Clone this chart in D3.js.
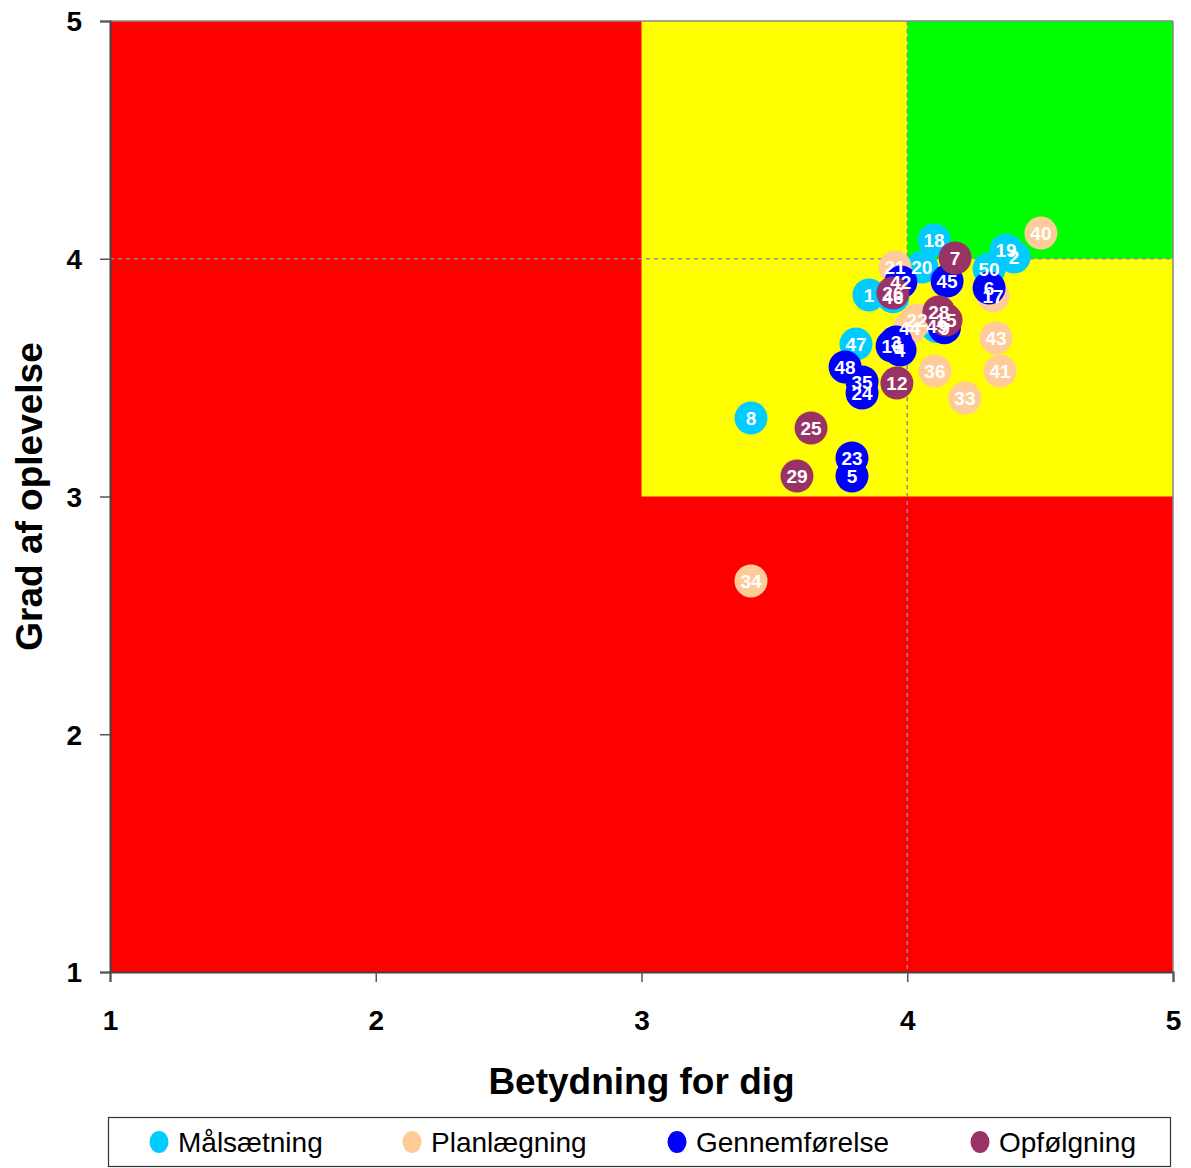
<!DOCTYPE html>
<html><head><meta charset="utf-8">
<script src="https://cdn.jsdelivr.net/npm/d3@7"></script>
<style>
html,body{margin:0;padding:0;background:#fff;}
svg{display:block;font-family:"Liberation Sans",Arial,sans-serif;}
</style></head>
<body>
<svg id="c" width="1191" height="1168"></svg>
<script>
const seriesNames = ["Målsætning","Planlægning","Gennemførelse","Opfølgning"];
const seriesColors = ["#00CCFF","#FFCC99","#0000FF","#993366"];
const xTicks = [1,2,3,4,5];
const yTicks = [1,2,3,4,5];

// [label, x, y]
const malsaetning = [
  ["8",3.412,3.330],["47",3.807,3.641],["1",3.856,3.848],["46",3.946,3.840],
  ["18",4.101,4.079],["20",4.055,3.965],["19",4.372,4.037],["2",4.402,4.007],
  ["50",4.308,3.957],["49",4.112,3.715]
];
const planlaegning = [
  ["40",4.503,4.108],["21",3.954,3.965],["17",4.323,3.843],["43",4.334,3.667],
  ["41",4.349,3.528],["36",4.104,3.528],["33",4.217,3.414],["34",3.412,2.645],
  ["22",4.037,3.742],["44",4.010,3.709]
];
const gennemfoerelse = [
  ["48",3.766,3.545],["35",3.830,3.482],["24",3.830,3.435],["23",3.792,3.162],
  ["5",3.792,3.086],["16",3.943,3.633],["4",3.973,3.616],["3",3.958,3.650],
  ["42",3.976,3.902],["45",4.150,3.906],["6",4.308,3.877],["9",4.140,3.710]
];
const opfoelgning = [
  ["25",3.638,3.288],["29",3.585,3.086],["12",3.961,3.477],["7",4.180,4.003],
  ["26",3.946,3.856],["28",4.119,3.776],["15",4.146,3.742]
];
const allSeries = [malsaetning, planlaegning, gennemfoerelse, opfoelgning];

const svg = d3.select("#c");
const L=110,R=1173,T=21,B=972;
const x = d3.scaleLinear().domain([1,5]).range([L,R]);
const y = d3.scaleLinear().domain([1,5]).range([B,T]);

// zones
svg.append("rect").attr("x",x(1)).attr("y",y(5)).attr("width",x(5)-x(1)).attr("height",y(1)-y(5)).attr("fill","#FF0000");
svg.append("rect").attr("x",x(3)).attr("y",y(5)).attr("width",x(5)-x(3)).attr("height",y(3)-y(5)).attr("fill","#FFFF00");
svg.append("rect").attr("x",x(4)).attr("y",y(5)).attr("width",x(5)-x(4)).attr("height",y(4)-y(5)).attr("fill","#00FF00");

// dashed reference lines
svg.append("line").attr("x1",x(1)).attr("x2",x(5)).attr("y1",y(4)).attr("y2",y(4))
  .attr("stroke","#8a8aa8").attr("stroke-width",1.5).attr("stroke-dasharray","4,4");
svg.append("line").attr("x1",x(4)).attr("x2",x(4)).attr("y1",y(5)).attr("y2",y(1))
  .attr("stroke","#8a8aa8").attr("stroke-width",1.5).attr("stroke-dasharray","4,4");

// frame top/right
svg.append("line").attr("x1",L).attr("x2",R).attr("y1",T).attr("y2",T).attr("stroke","#888").attr("stroke-width",1.5);
svg.append("line").attr("x1",R).attr("x2",R).attr("y1",T).attr("y2",B).attr("stroke","#888").attr("stroke-width",1.5);

// axes
const xAxis = svg.append("g").attr("transform",`translate(0,${B})`)
  .call(d3.axisBottom(x).tickValues(xTicks).tickFormat(d3.format("d")).tickSize(10).tickPadding(38));
const yAxis = svg.append("g").attr("transform",`translate(${L},0)`)
  .call(d3.axisLeft(y).tickValues(yTicks).tickFormat(d3.format("d")).tickSize(10).tickPadding(18));
[xAxis,yAxis].forEach(g=>{
  g.select(".domain").attr("stroke","#444").attr("stroke-width",2);
  g.selectAll(".tick line").attr("stroke","#555").attr("stroke-width",1.5);
  g.selectAll(".tick text").attr("fill","#000").attr("font-size",28).attr("font-weight","bold")
   .attr("font-family","'Liberation Sans',Arial,sans-serif");
});
yAxis.selectAll(".tick text").attr("dy","0.35em");
xAxis.selectAll(".tick text").attr("dy","0.35em");

// titles
svg.append("text").attr("x",(L+R)/2).attr("y",1094).attr("text-anchor","middle")
  .attr("font-size",37).attr("font-weight","bold").text("Betydning for dig");
svg.append("text").attr("transform",`translate(42,${(T+B)/2}) rotate(-90)`).attr("text-anchor","middle")
  .attr("font-size",37).attr("font-weight","bold").text("Grad af oplevelse");

// points
allSeries.forEach((data,i)=>{
  const g = svg.append("g");
  const pts = g.selectAll("g").data(data).enter().append("g")
    .attr("transform",d=>`translate(${x(d[1])},${y(d[2])})`);
  pts.append("circle").attr("r",16.5).attr("fill",seriesColors[i]);
});
allSeries.forEach((data,i)=>{
  svg.append("g").selectAll("text").data(data).enter().append("text")
    .attr("x",d=>x(d[1])).attr("y",d=>y(d[2])).attr("dy","0.36em")
    .attr("text-anchor","middle").attr("fill","#fff").attr("font-weight","bold")
    .attr("font-size",19).text(d=>d[0]);
});

// legend
svg.append("rect").attr("x",108.5).attr("y",1117.5).attr("width",1062).attr("height",49)
  .attr("fill","#fff").attr("stroke","#333").attr("stroke-width",1.2);
const legX = [159,412,677,980];
seriesNames.forEach((n,i)=>{
  svg.append("ellipse").attr("cx",legX[i]).attr("cy",1142).attr("rx",9.5).attr("ry",11).attr("fill",seriesColors[i]);
  svg.append("text").attr("x",legX[i]+19).attr("y",1142).attr("dy","0.35em")
    .attr("font-size",28).attr("fill","#000").text(n);
});
</script>
</body></html>
